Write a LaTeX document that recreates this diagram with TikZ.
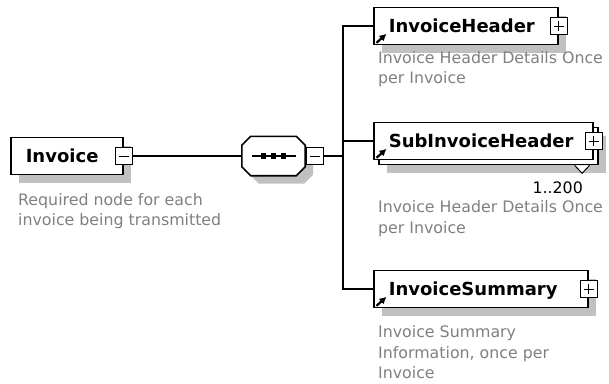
\documentclass[tikz,border=0pt]{standalone}
\usepackage{fontspec}
\setmainfont{DejaVu Sans}
\usetikzlibrary{shadows,arrows.meta}

\definecolor{descgray}{RGB}{128,128,128}
\definecolor{shadowgray}{RGB}{192,192,192}

\begin{document}
\begin{tikzpicture}[x=1pt,y=-1pt,
  elem node/.style={draw,line width=1.6pt,fill=white,minimum height=37pt,
    inner xsep=15pt,inner ysep=0pt,text height=13pt,text depth=0pt,
    align=left,anchor=west,font=\bfseries\fontsize{18}{22}\selectfont},
  elem shadow/.style={drop shadow={shadow xshift=#1,shadow yshift=-#1,
    fill=shadowgray,opacity=1}},
  seq node/.style={minimum width=63pt,minimum height=39pt,inner sep=0pt},
  pm node/.style={draw,line width=1pt,fill=white,minimum size=17pt,inner sep=0pt},
  sign/.style={line width=1pt},
  link/.style={line width=1.2pt},
  desc node/.style={anchor=north west,inner sep=0pt,align=left,text=descgray,
    font=\fontsize{15.8}{20.5}\selectfont},
  count node/.style={anchor=base east,inner sep=0pt,font=\fontsize{15.8}{20.5}\selectfont},
  ref arrow/.style={line width=2.2pt,-{Latex[length=7pt,width=7.5pt]}}]
  \useasboundingbox (0,0) rectangle (609,383);

  % root element
  \node[elem node,elem shadow=8pt,text width=82pt] (invoice) at (10,156) {Invoice};
  \node[pm node] (invoicepm) at (invoice.east) {};
  \draw[sign] ([xshift=-5]invoicepm.center) -- ([xshift=5]invoicepm.center);
  \node[desc node] (invoicedesc) at (18,193) {Required node for each\\invoice being transmitted};

  % sequence
  \node[seq node] (seq) at (273.5,156) {};
  \filldraw[elem shadow=8pt,fill=white,line width=1.6pt]
    ([xshift=9]seq.north west) -- ([xshift=-9]seq.north east)
    -- ([yshift=-9]seq.north east) -- ([yshift=9]seq.south east)
    -- ([xshift=-9]seq.south east) -- ([xshift=9]seq.south west)
    -- ([yshift=9]seq.south west) -- ([yshift=-9]seq.north west) -- cycle;
  \draw[link] ([xshift=-22]seq.center) -- ([xshift=22]seq.center);
  \foreach \dx in {-10,0,10}
    \fill ([xshift=\dx]seq.center) +(-2.7,-2.7) rectangle +(2.7,2.7);
  \node[pm node,anchor=west] (seqpm) at ([xshift=1]seq.east) {};
  \draw[sign] ([xshift=-5]seqpm.center) -- ([xshift=5]seqpm.center);

  \coordinate (fork) at (343,156);

  % children
  \node[elem node,elem shadow=8pt,text width=154pt] (hdr) at (373,26) {InvoiceHeader};
  \node[elem node,elem shadow=13pt,copy shadow={shadow xshift=5pt,shadow yshift=-5pt},
    text width=189pt] (sub) at (373,141) {SubInvoiceHeader};
  \node[elem node,elem shadow=8pt,text width=184pt] (sum) at (373,289) {InvoiceSummary};

  \foreach \n in {hdr,sub,sum} {
    \node[pm node] (\n pm) at (\n.east) {};
    \draw[sign] ([xshift=-5]\n pm.center) -- ([xshift=5]\n pm.center);
    \draw[sign] ([yshift=-5]\n pm.center) -- ([yshift=5]\n pm.center);
    \draw[ref arrow] ([shift={(3.5,-2.5)}]\n.south west) -- ++(10,-9);
  }

  \draw[line width=1pt,fill=white] ([shift={(-19,5)}]sub.south east) -- ++(7.5,8) -- ++(7.5,-8);
  \node[count node] (subcount) at (583,193) {1..200};

  \node[desc node] (hdrdesc) at (378,51) {Invoice Header Details Once\\per Invoice};
  \node[desc node] (subdesc) at (378,200.5) {Invoice Header Details Once\\per Invoice};
  \node[desc node] (sumdesc) at (378,325.5) {Invoice Summary\\Information, once per\\Invoice};

  % connectors
  \path (invoicepm) [-, link] edge (seq);
  \path (seqpm) [-, link] edge (fork);
  \coordinate (t1) at (fork |- hdr.west);
  \coordinate (t2) at (fork |- sub.west);
  \coordinate (t3) at (fork |- sum.west);
  \draw[link] (hdr.west) -- (t1) -- (t3) -- (sum.west);
  \path (t2) [-, link] edge (sub.west);
\end{tikzpicture}
\end{document}
